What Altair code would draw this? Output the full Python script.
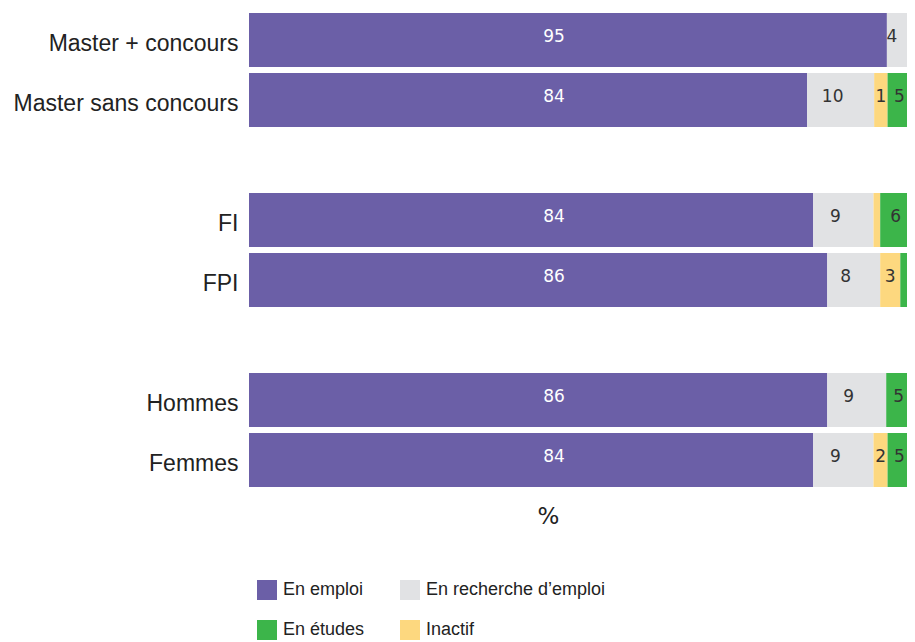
import altair as alt
import pandas as pd

categories = ["Master + concours", "Master sans concours", "FI", "FPI", "Hommes", "Femmes"]
y_domain = ["Master + concours", "Master sans concours", " ", "FI", "FPI", "  ", "Hommes", "Femmes"]

stack_order = ["En emploi", "En recherche d’emploi", "Inactif", "En études"]
legend_order = ["En emploi", "En recherche d’emploi", "En études", "Inactif"]
colors = ["#6B5FA7", "#E1E2E4", "#3CB54A", "#FDD87F"]

emploi = [95.2, 83.3, 84.2, 86.3, 86.3, 84.2]
recherche = [3.9, 10.0, 9.0, 7.9, 8.8, 9.0]
inactif = [0.0, 2.0, 1.0, 3.0, 0.0, 2.1]
etudes = [0.9, 4.7, 5.8, 2.8, 4.9, 4.7]

emploi_lbl = ["95", "84", "84", "86", "86", "84"]
recherche_lbl = ["4", "10", "9", "8", "9", "9"]
inactif_lbl = ["", "1", "", "3", "", "2"]
etudes_lbl = ["", "5", "6", "", "5", "5"]

series = {
    "En emploi": (emploi, emploi_lbl),
    "En recherche d’emploi": (recherche, recherche_lbl),
    "Inactif": (inactif, inactif_lbl),
    "En études": (etudes, etudes_lbl),
}

rows = []
for i, cat in enumerate(categories):
    start = 0.0
    for k, st in enumerate(stack_order):
        vals, lbls = series[st]
        v = vals[i]
        rows.append({
            "category": cat, "status": st, "order": k,
            "x0": start, "x1": start + v, "mid": start + v / 2, "label": lbls[i],
        })
        start += v
df = pd.DataFrame(rows)

xscale = alt.Scale(domain=[0, 98.2], nice=False, zero=True)
yscale = alt.Scale(domain=y_domain, paddingInner=0.1, paddingOuter=0.05)

base = alt.Chart(df)

bars = base.mark_bar(clip=True).encode(
    x=alt.X("x0:Q", scale=xscale,
            axis=alt.Axis(labels=False, ticks=False, domain=False, grid=False,
                          title="%", titleFontSize=23, titleFont="DejaVu Sans",
                          titleFontWeight="normal", titleColor="#222",
                          titleX=299, titleY=26, titleBaseline="middle")),
    x2="x1:Q",
    y=alt.Y("category:N", scale=yscale, sort=y_domain, title=None,
            axis=alt.Axis(ticks=False, domain=False, grid=False, labelFontSize=23,
                          labelFont="Liberation Sans", labelColor="#222",
                          labelPadding=11, labelLimit=400, labelOffset=4)),
    color=alt.Color("status:N", scale=alt.Scale(domain=legend_order, range=colors),
                    legend=alt.Legend(orient="none", legendX=8, legendY=570, columns=2,
                                      direction="horizontal",
                                      title=None, symbolType="square", symbolSize=400,
                                      symbolStrokeWidth=0, labelFontSize=18,
                                      labelFont="Liberation Sans", labelColor="#222",
                                      columnPadding=35, rowPadding=20, labelOffset=6,
                                      labelLimit=400, padding=0)),
    order="order:Q",
)

emp_text = base.transform_filter(alt.datum.status == "En emploi").mark_text(
    font="DejaVu Sans", fontSize=17, color="white", baseline="middle", dy=-3
).encode(
    x=alt.value(305),
    y=alt.Y("category:N", scale=yscale, sort=y_domain),
    text="label:N",
)

gray_text = base.transform_filter(alt.datum.status == "En recherche d’emploi").mark_text(
    font="DejaVu Sans", fontSize=17, color="#333", baseline="middle", dy=-3, dx=-8
).encode(
    x=alt.X("mid:Q", scale=xscale),
    y=alt.Y("category:N", scale=yscale, sort=y_domain),
    text="label:N",
)

inactif_text = base.transform_filter(alt.datum.status == "Inactif").mark_text(
    font="DejaVu Sans", fontSize=17, color="#333", baseline="middle", dy=-3
).encode(
    x=alt.X("mid:Q", scale=xscale),
    y=alt.Y("category:N", scale=yscale, sort=y_domain),
    text="label:N",
)

etudes_text = base.transform_filter(alt.datum.status == "En études").mark_text(
    font="DejaVu Sans", fontSize=17, color="#333", baseline="middle", dy=-3, dx=-4
).encode(
    x=alt.X("mid:Q", scale=xscale),
    y=alt.Y("category:N", scale=yscale, sort=y_domain),
    text="label:N",
)

chart = alt.layer(bars, emp_text, gray_text, inactif_text, etudes_text).properties(
    width=658, height=480,
    autosize=alt.AutoSizeParams(type="none"),
    padding={"left": 241, "top": 2, "right": 0, "bottom": 150},
).configure(background="white", view={"stroke": None})

chart.save("out.html", embed_options={"renderer": "svg", "actions": False})
